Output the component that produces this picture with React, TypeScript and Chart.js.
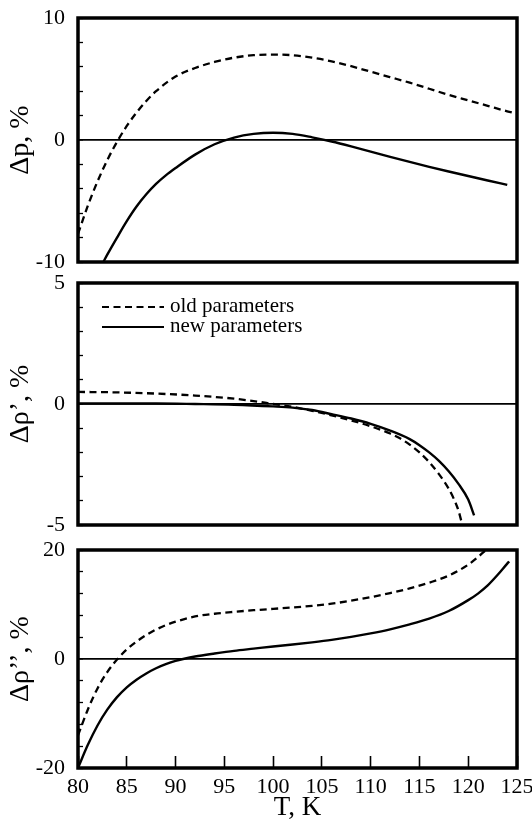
import { useEffect, useRef } from 'react';
import { Chart, registerables } from 'chart.js';

Chart.register(...registerables);

const FONT = "'Liberation Serif', 'Times New Roman', serif";

// Panel 1: Δp, %
const tPOld = [80, 81, 82, 83, 84, 85, 86, 87, 88, 90, 92, 94, 96, 98, 100, 102, 104, 106, 108, 110, 112, 114, 116, 118, 120, 122, 124, 125];
const pOld = [-7.7, -5.4, -3.4, -1.65, -0.15, 1.15, 2.25, 3.2, 4.0, 5.2, 5.9, 6.4, 6.75, 6.95, 7.0, 6.95, 6.75, 6.45, 6.05, 5.6, 5.15, 4.7, 4.2, 3.7, 3.25, 2.8, 2.35, 2.15];
const tPNew = [82.6, 83, 84, 85, 86, 87, 88, 89, 90, 92, 94, 96, 98, 100, 102, 104, 106, 108, 110, 112, 114, 116, 118, 120, 122, 124];
const pNew = [-10, -9.4, -8.0, -6.65, -5.45, -4.45, -3.6, -2.9, -2.3, -1.2, -0.35, 0.2, 0.5, 0.6, 0.5, 0.22, -0.12, -0.52, -0.95, -1.38, -1.8, -2.2, -2.58, -2.95, -3.32, -3.68];

// Panel 2: Δρ', %
const tR1Old = [80, 84, 88, 92, 96, 98, 100, 102, 104, 106, 108, 110, 112, 113, 114, 115, 116, 117, 118, 118.5, 119, 119.3];
const r1Old = [0.5, 0.48, 0.43, 0.35, 0.22, 0.12, 0.0, -0.12, -0.28, -0.47, -0.68, -0.92, -1.22, -1.42, -1.68, -2.0, -2.4, -2.9, -3.5, -3.9, -4.4, -4.85];
const tR1New = [80, 84, 88, 92, 96, 100, 102, 104, 106, 108, 110, 112, 114, 115, 116, 117, 118, 119, 120, 120.6];
const r1New = [0.02, 0.02, 0.02, 0.0, -0.03, -0.1, -0.15, -0.25, -0.42, -0.6, -0.82, -1.1, -1.45, -1.7, -2.0, -2.35, -2.78, -3.3, -3.95, -4.6];

// Panel 3: Δρ'', %
const tR2Old = [80, 81, 82, 83, 84, 85, 86, 87, 88, 89, 90, 92, 94, 96, 98, 100, 102, 104, 106, 108, 110, 112, 114, 116, 118, 120, 121, 121.8];
const r2Old = [-14, -9.3, -5.4, -2.4, -0.1, 1.75, 3.2, 4.4, 5.4, 6.2, 6.85, 7.8, 8.3, 8.65, 8.95, 9.2, 9.45, 9.75, 10.15, 10.7, 11.35, 12.1, 12.95, 14.0, 15.3, 17.3, 18.7, 20];
const tR2New = [80, 81, 82, 83, 84, 85, 86, 87, 88, 89, 90, 91, 92, 94, 96, 98, 100, 102, 104, 106, 108, 110, 112, 114, 116, 118, 120, 121, 122, 123, 124, 124.2];
const r2New = [-20, -15.8, -12.2, -9.3, -7.0, -5.2, -3.8, -2.65, -1.7, -0.95, -0.35, 0.1, 0.45, 1.0, 1.5, 1.9, 2.3, 2.65, 3.05, 3.5, 4.05, 4.7, 5.45, 6.35, 7.4, 8.8, 10.8, 12.0, 13.5, 15.4, 17.5, 17.9];

const xMin = 80;
const xMax = 125;
const xStep = 5;
const legendLabels = ['old parameters', 'new parameters'];
const xTitle = 'T, K';

type Series = { label: string; t: number[]; v: number[]; dash: number[] };
type PanelSpec = {
  top: number;
  height: number;
  padTop: number;
  padBottom: number;
  yMin: number;
  yMax: number;
  yStep: number;
  yTitle: string;
  showX: boolean;
  showLegend: boolean;
  series: Series[];
};

const OLD_DASH = [7, 4.5];

const panels: PanelSpec[] = [
  {
    top: 0, height: 280, padTop: 18, padBottom: 18,
    yMin: -10, yMax: 10, yStep: 2, yTitle: 'Δp, %', showX: false, showLegend: false,
    series: [
      { label: legendLabels[0], t: tPOld, v: pOld, dash: OLD_DASH },
      { label: legendLabels[1], t: tPNew, v: pNew, dash: [] },
    ],
  },
  {
    top: 268, height: 280, padTop: 15, padBottom: 23,
    yMin: -5, yMax: 5, yStep: 1, yTitle: 'Δρ’, %', showX: false, showLegend: true,
    series: [
      { label: legendLabels[0], t: tR1Old, v: r1Old, dash: OLD_DASH },
      { label: legendLabels[1], t: tR1New, v: r1New, dash: [] },
    ],
  },
  {
    top: 535, height: 286, padTop: 15, padBottom: 0,
    yMin: -20, yMax: 20, yStep: 4, yTitle: 'Δρ’’, %', showX: true, showLegend: false,
    series: [
      { label: legendLabels[0], t: tR2Old, v: r2Old, dash: OLD_DASH },
      { label: legendLabels[1], t: tR2New, v: r2New, dash: [] },
    ],
  },
];

const framePlugin = {
  id: 'frame',
  afterDraw(chart: any) {
    const { ctx, chartArea } = chart;
    ctx.save();
    ctx.strokeStyle = '#000';
    ctx.lineWidth = 3.5;
    ctx.strokeRect(chartArea.left, chartArea.top, chartArea.right - chartArea.left, chartArea.bottom - chartArea.top);
    ctx.restore();
  },
};

const innerLegendPlugin = {
  id: 'innerLegend',
  afterDraw(chart: any) {
    const { ctx, chartArea } = chart;
    ctx.save();
    ctx.fillStyle = '#000';
    ctx.strokeStyle = '#000';
    ctx.font = `21px ${FONT}`;
    ctx.textBaseline = 'middle';
    chart.data.datasets.forEach((ds: any, i: number) => {
      const y = chartArea.top + 24 + i * 20;
      const x0 = chartArea.left + 24;
      ctx.lineWidth = 2;
      ctx.setLineDash(ds.borderDash || []);
      ctx.beginPath();
      ctx.moveTo(x0, y);
      ctx.lineTo(x0 + 62, y);
      ctx.stroke();
      ctx.setLineDash([]);
      ctx.fillText(ds.label, x0 + 68, y - 1);
    });
    ctx.restore();
  },
};

function Panel({ spec }: { spec: PanelSpec }) {
  const ref = useRef<HTMLCanvasElement | null>(null);
  useEffect(() => {
    if (!ref.current) return;
    const s = spec;
    const chart = new Chart(ref.current, {
      type: 'line',
      data: {
        datasets: s.series.map((se) => ({
          label: se.label,
          data: se.t.map((x, i) => ({ x, y: se.v[i] })),
          borderColor: '#000',
          backgroundColor: '#000',
          borderWidth: se.dash.length ? 2.3 : 2.4,
          borderDash: se.dash,
          pointRadius: 0,
          fill: false,
          cubicInterpolationMode: 'monotone',
        })),
      },
      options: {
        animation: false,
        responsive: false,
        maintainAspectRatio: false,
        layout: { padding: { left: 0, right: 15, top: s.padTop, bottom: s.padBottom } },
        plugins: { legend: { display: false }, tooltip: { enabled: false } },
        scales: {
          x: {
            type: 'linear',
            min: xMin,
            max: xMax,
            display: s.showX,
            border: { display: false },
            ticks: {
              stepSize: xStep,
              autoSkip: false,
              color: '#000',
              padding: 20,
              maxRotation: 0,
              font: { family: FONT, size: 22, lineHeight: 1 },
              callback: (v: any) => String(v),
            },
            grid: {
              drawOnChartArea: false,
              drawTicks: true,
              tickLength: -12,
              tickColor: '#000',
              tickWidth: 1.6,
            },
            title: {
              display: true,
              text: xTitle,
              color: '#000',
              font: { family: FONT, size: 27, lineHeight: 1 },
              padding: { top: 0, bottom: 0 },
            },
            afterFit: (sc: any) => {
              if (s.showX) {
                sc.height = 53;
              }
              sc.paddingLeft = 0;
              sc.paddingRight = 0;
            },
          },
          y: {
            type: 'linear',
            min: s.yMin,
            max: s.yMax,
            border: { display: false },
            ticks: {
              stepSize: s.yStep,
              autoSkip: false,
              color: '#000',
              padding: 18,
              font: { family: FONT, size: 22, lineHeight: 1 },
              callback: (v: any) => (v === s.yMin || v === 0 || v === s.yMax ? String(v) : ''),
            },
            grid: {
              drawOnChartArea: true,
              drawTicks: true,
              tickLength: -5,
              tickColor: '#000',
              tickWidth: 1.3,
              color: (c: any) => (c.tick && c.tick.value === 0 ? '#000' : 'rgba(0,0,0,0)'),
              lineWidth: (c: any) => (c.tick && c.tick.value === 0 ? 1.8 : 1),
            },
            title: {
              display: true,
              text: s.yTitle,
              color: '#000',
              font: { family: FONT, size: 28, lineHeight: 1.2 },
              padding: { top: 4, bottom: 0 },
            },
            afterFit: (sc: any) => {
              sc.width = 78;
              sc.paddingTop = 0;
              sc.paddingBottom = 0;
            },
          },
        },
      } as any,
      plugins: s.showLegend ? [framePlugin, innerLegendPlugin] : [framePlugin],
    });
    return () => chart.destroy();
  }, [spec]);
  return (
    <canvas
      ref={ref}
      width={532}
      height={spec.height}
      style={{ position: 'absolute', left: 0, top: spec.top, width: 532, height: spec.height }}
    />
  );
}

export default function App() {
  return (
    <div style={{ position: 'absolute', left: 0, top: 0, width: 532, height: 821, background: '#fff', overflow: 'hidden' }}>
      {panels.map((p, i) => (
        <Panel key={i} spec={p} />
      ))}
    </div>
  );
}
